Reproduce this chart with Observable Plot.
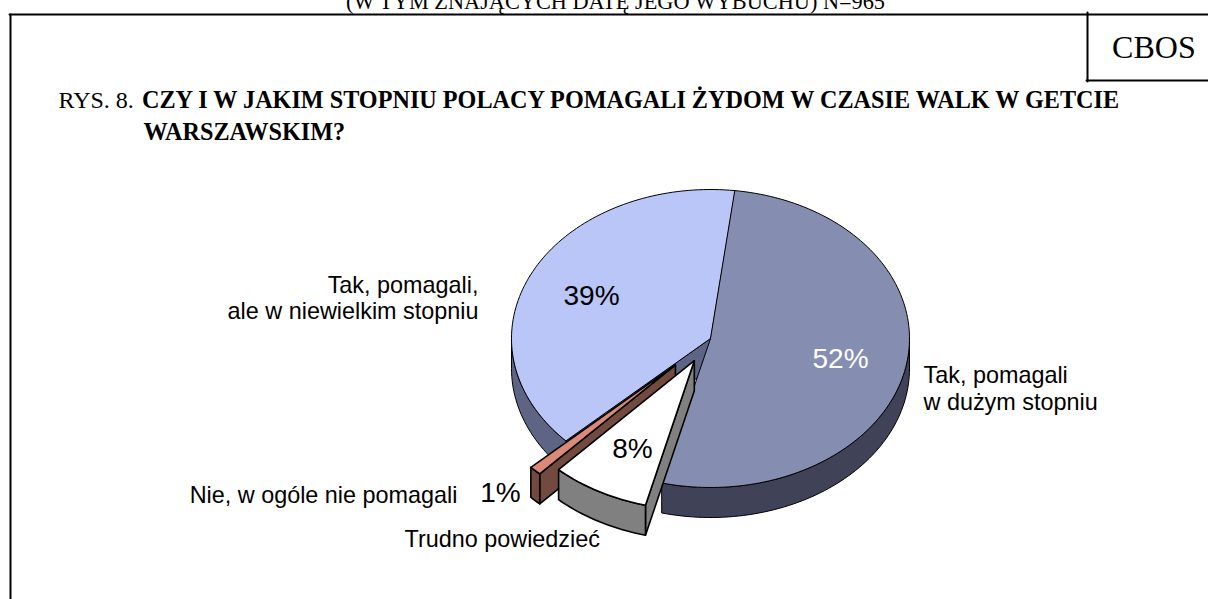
<!DOCTYPE html>
<html><head><meta charset="utf-8">
<script src="https://cdn.jsdelivr.net/npm/d3@7"></script>
<script src="https://cdn.jsdelivr.net/npm/@observablehq/plot@0.6"></script>
<style>html,body{margin:0;padding:0;background:#fff;overflow:hidden}svg{display:block}</style>
</head><body><div id="c"></div>
<script>
const categories = ["Tak, pomagali\nw dużym stopniu", "Trudno powiedzieć", "Nie, w ogóle nie pomagali", "Tak, pomagali,\nale w niewielkim stopniu"];
const values = [52, 8, 1, 39];
const percentLabels = ["52%", "8%", "1%", "39%"];
const topColors = ["#858db0", "#ffffff", "#dc8a78", "#b9c6f7"];
const sideColors = ["#404358", "#808080", "#734a40", "#5d6484"];
const explode = [0, 0.17, 0.25, 0];

// pie geometry
const cx = 710, cy = 338, rx = 199, ry = 149, depth = 30, startDeg = 7;
const total = d3.sum(values);
let acc = startDeg;
const slices = values.map((v, i) => {
  const a0 = acc, a1 = acc + v / total * 360; acc = a1;
  const m = (a0 + a1) / 2 * Math.PI / 180;
  return {i, a0, a1, ox: Math.sin(m) * rx * explode[i], oy: -Math.cos(m) * ry * explode[i]};
});
const pt = (s, deg, dz = 0) => {
  const t = deg * Math.PI / 180;
  return [cx + s.ox + Math.sin(t) * rx, cy + s.oy - Math.cos(t) * ry + dz];
};
const arc = (s, d0, d1, dz = 0) => {
  const n = Math.max(2, Math.ceil(Math.abs(d1 - d0) / 1.5)), out = [];
  for (let k = 0; k <= n; k++) out.push(pt(s, d0 + (d1 - d0) * k / n, dz));
  return out;
};
const apex = (s, dz = 0) => [cx + s.ox, cy + s.oy + dz];

const pieces = [];
const add = (pts, fill, sw) => {
  const id = pieces.length ? pieces[pieces.length - 1].id + 1 : 0;
  pts.forEach(p => pieces.push({id, x: p[0], y: p[1], fill, sw}));
};
const wallAt = (s, deg, sw) => add([apex(s), pt(s, deg), pt(s, deg, depth), apex(s, depth)], sideColors[s.i], sw);
const rim = (s, d0, d1, sw) => add([...arc(s, d0, d1), ...arc(s, d1, d0, depth)], sideColors[s.i], sw);
const top_ = (s, sw) => add([apex(s), ...arc(s, s.a0, s.a1)], topColors[s.i], sw);

const [s52, s8, s1, s39] = slices;
wallAt(s39, s39.a0, 1);
rim(s39, s39.a0, 270, 1);
top_(s39, 1);
rim(s52, 90, s52.a1, 1);
top_(s52, 1);
wallAt(s1, s1.a0, 1.6);
rim(s1, s1.a0, s1.a1, 1.6);
top_(s1, 1.6);
wallAt(s8, s8.a0, 1.6);
rim(s8, s8.a0, s8.a1, 1.6);
top_(s8, 1.6);

const ink = "#000";
const serif = "Liberation Serif";
const sans = "Liberation Sans";
const t = (text, x, y, o = {}) => Plot.text([text], {x: () => x, y: () => y, text: d => d, fontFamily: sans, fontSize: 23.4, fill: ink, lineHeight: 1.13, textAnchor: "start", ...o});
const rule = (x1, y1, x2, y2) => Plot.line([[x1, y1], [x2, y2]], {x: d => d[0], y: d => d[1], stroke: "#000", strokeWidth: 2});

const chart = Plot.plot({
  width: 1208, height: 599,
  marginTop: 0, marginRight: 0, marginBottom: 0, marginLeft: 0,
  x: {domain: [0, 1208], range: [0, 1208], axis: null},
  y: {domain: [0, 599], range: [0, 599], axis: null},
  marks: [
    rule(10, 14, 10, 599),
    rule(9, 14, 1208, 14),
    rule(1087, 12, 1087, 81),
    rule(1086, 80, 1208, 80),
    t("(W TYM ZNAJĄCYCH DATĘ JEGO WYBUCHU) N=965", 615, 0, {fontFamily: serif, fontSize: 22.3, textAnchor: "middle"}),
    t("CBOS", 1153.4, 46, {fontFamily: serif, fontSize: 32, textAnchor: "middle"}),
    t("RYS. 8.", 58, 99, {fontFamily: serif, fontSize: 24}),
    t("CZY I W JAKIM STOPNIU POLACY POMAGALI ŻYDOM W CZASIE WALK W GETCIE", 141.5, 99, {fontFamily: serif, fontSize: 24.2, fontWeight: "bold"}),
    t("WARSZAWSKIM?", 143, 130.6, {fontFamily: serif, fontSize: 24.2, fontWeight: "bold"}),
    Plot.line(pieces, {x: "x", y: "y", z: "id", fill: "fill", stroke: "#000", strokeWidth: "sw", curve: "linear-closed", strokeLinejoin: "round"}),
    t(percentLabels[0], 840, 357, {fontSize: 28, fill: "#fff", textAnchor: "middle"}),
    t(percentLabels[1], 632, 447.6, {fontSize: 28, textAnchor: "middle"}),
    t(percentLabels[2], 500, 491.6, {fontSize: 28, textAnchor: "middle"}),
    t(percentLabels[3], 591, 294, {fontSize: 28, textAnchor: "middle"}),
    t(categories[3], 478, 297, {textAnchor: "end"}),
    t(categories[0], 923, 387.5),
    t(categories[2], 457, 494, {textAnchor: "end"}),
    t(categories[1], 404, 538.5)
  ]
});
document.getElementById("c").append(chart);
</script></body></html>
